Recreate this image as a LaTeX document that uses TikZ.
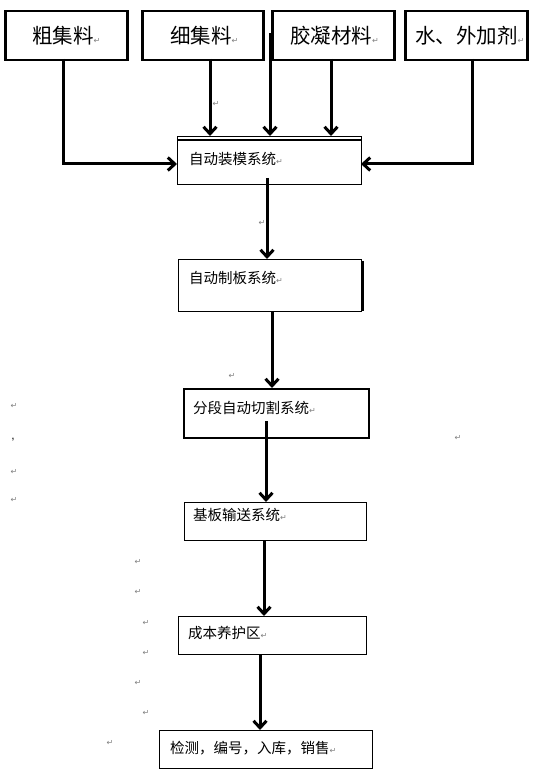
\documentclass[tikz,border=0pt]{standalone}
\usepackage{fontspec}
\setmainfont{Liberation Sans}
\newfontfamily\cjk{Noto Sans CJK SC}
\newfontfamily\dvs{DejaVu Sans}
\usetikzlibrary{arrows.meta}
\newcommand\pmark{{\dvs\color{gray}\fontsize{8}{8}\selectfont ↵}}
\begin{document}
\begin{tikzpicture}[x=1pt,y=-1pt,
  topbox/.style={draw, line width=2.5pt, anchor=north west, inner sep=0pt, minimum width=122pt, minimum height=49pt},
  lowbox/.style={draw, line width=1.6pt, anchor=north west, inner sep=0pt},
  toptext/.style={anchor=west, inner sep=0pt, font=\cjk\fontsize{20.5}{22}\selectfont},
  lowtext/.style={anchor=west, inner sep=0pt, font=\cjk\fontsize{14.5}{16}\selectfont},
  stray/.style={inner sep=0pt, font=\dvs\color{gray}\fontsize{8}{8}\selectfont},
  flow/.style={line width=3pt, -{Straight Barb[length=7pt,width=13pt]}},
  flowline/.style={line width=3pt}]
\useasboundingbox[fill=white] (0,0) rectangle (538,783);

% top boxes
\node[topbox] (b1) at (4,10) {};
\node[topbox, minimum width=121pt] (b2) at (141,10) {};
\node[topbox] (b3) at (271,10) {};
\node[topbox] (b4) at (404,10) {};
\node[toptext] (t1) at (32,36) {粗集料\pmark};
\node[toptext] (t2) at (170,36) {细集料\pmark};
\node[toptext] (t3) at (290,36) {胶凝材料\pmark};
\node[toptext] (t4) at (415,36) {水、外加剂\pmark};

% process boxes
\node[lowbox, line width=1.3pt, minimum width=184pt, minimum height=48pt] (load) at (177,136) {};
\coordinate (lt1) at (177,140);
\coordinate (lt2) at (361,140);
\draw[line width=1.1pt] (lt1) -- (lt2);
\node[lowtext] (load-t) at (189,159) {自动装模系统\pmark};

\node[lowbox, line width=1.3pt, minimum width=183pt, minimum height=52pt] (plate) at (178,259) {};
\coordinate (sh1) at (363,261);
\coordinate (sh2) at (363,311);
\draw[line width=1.3pt] (sh1) -- (sh2);
\node[lowtext] (plate-t) at (189,278) {自动制板系统\pmark};

\node[lowbox, minimum width=185pt, minimum height=49pt] (cut) at (183,388) {};
\node[lowtext] (cut-t) at (193,408) {分段自动切割系统\pmark};

\node[lowbox, line width=1.3pt, minimum width=182pt, minimum height=38pt] (conv) at (184,502) {};
\node[lowtext] (conv-t) at (193,515) {基板输送系统\pmark};

\node[lowbox, line width=1.3pt, minimum width=188pt, minimum height=38pt] (cure) at (178,616) {};
\node[lowtext] (cure-t) at (188,633) {成本养护区\pmark};

\node[lowbox, line width=1.3pt, minimum width=213pt, minimum height=38pt] (chk) at (159,730) {};
\node[lowtext] (chk-t) at (170,748) {检测，编号，入库，销售\pmark};

% arrow start points
\coordinate (s1) at (63,59);
\coordinate (s2) at (210,59);
\coordinate (s3) at (270,33);
\coordinate (s4) at (331,59);
\coordinate (s5) at (472,59);
\coordinate (s6) at (267,178);
\coordinate (s7) at (272,311);
\coordinate (s8) at (266,421);
\coordinate (s9) at (264,540);
\coordinate (s10) at (260,654);
\coordinate (l1) at (177,164);
\coordinate (l2) at (361,164);

\draw[flow] (s1) |- (l1);
\draw[flow] (s2) -- (s2 |- load.north);
\draw[flow] (s3) -- (s3 |- load.north);
\draw[flow] (s4) -- (s4 |- load.north);
\draw[flow] (s5) |- (l2);
\draw[flow] (s6) -- (s6 |- plate.north);
\draw[flow] (s7) -- (s7 |- cut.north);
\draw[flow] (s8) -- (s8 |- conv.north);
\draw[flow] (s9) -- (s9 |- cure.north);
\draw[flow] (s10) -- (s10 |- chk.north);

% stray paragraph marks
\node[stray] (m1) at (216,104) {↵};
\node[stray] (m2) at (262,223) {↵};
\node[stray] (m3) at (232,376) {↵};
\node[stray] (m4) at (14,406) {↵};
\node[inner sep=0pt, font=\fontsize{12}{12}\selectfont] (m5) at (13,440) {,};
\node[stray] (m6) at (14,472) {↵};
\node[stray] (m7) at (14,500) {↵};
\node[stray] (m8) at (458,438) {↵};
\node[stray] (m9) at (138,562) {↵};
\node[stray] (m10) at (138,592) {↵};
\node[stray] (m11) at (146,623) {↵};
\node[stray] (m12) at (146,653) {↵};
\node[stray] (m13) at (138,683) {↵};
\node[stray] (m14) at (146,713) {↵};
\node[stray] (m15) at (110,743) {↵};
\end{tikzpicture}
\end{document}
